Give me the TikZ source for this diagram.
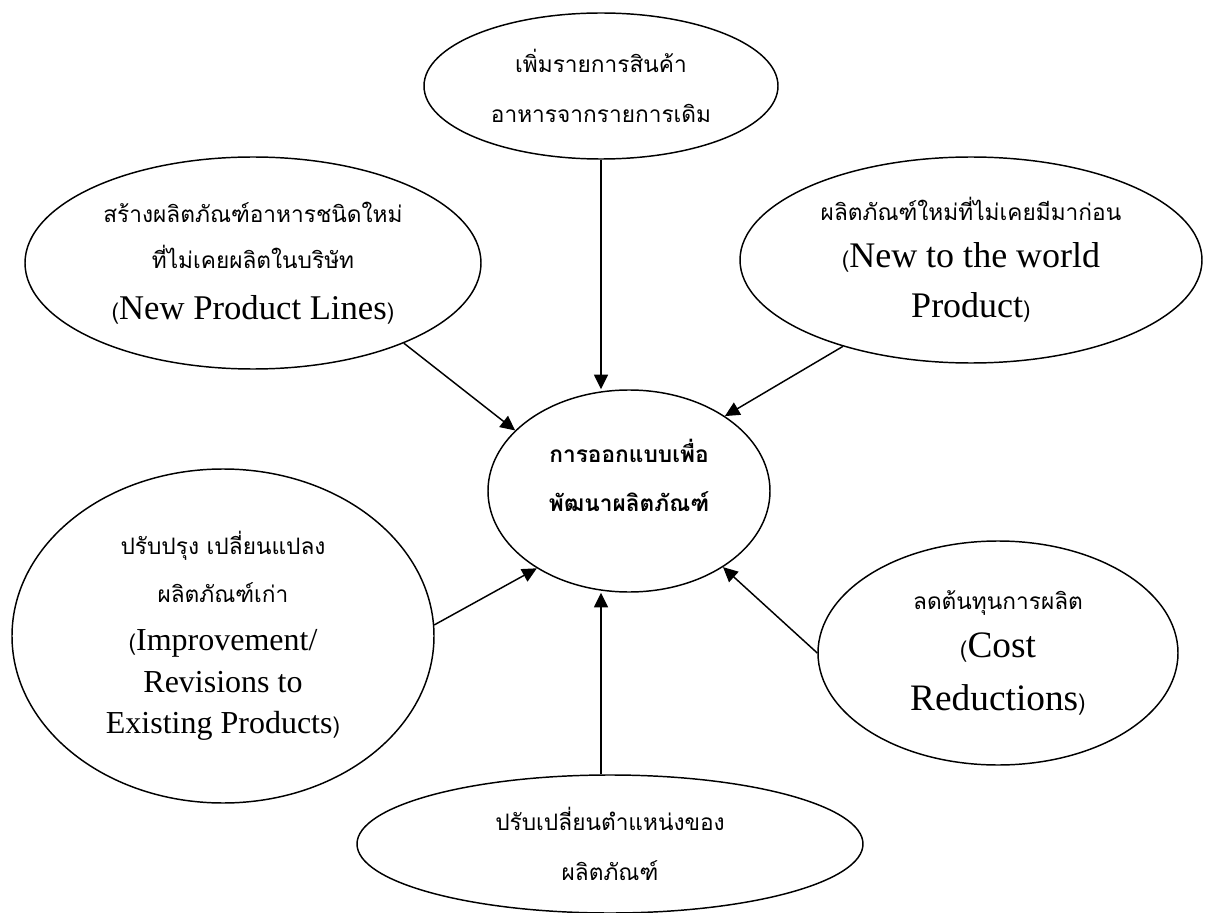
\documentclass[tikz,border=0pt]{standalone}
\usepackage{fontspec}
\setmainfont{Liberation Serif}
\newfontfamily\thai[Script=Thai]{Loma}
\usepackage{tikz}
\usetikzlibrary{
  arrows.meta,
  shapes.geometric
}
\newcommand{\engl}[2][26]{{\rmfamily\fontsize{#1}{30}\selectfont #2}}

\begin{document}
\begin{tikzpicture}[
  x=0.75pt,y=-0.75pt,
  idea/.style={draw,ellipse,line width=1.1pt,inner sep=0pt,align=center,
    font=\thai\fontsize{17}{35}\selectfont},
  feed/.style={draw,line width=1.1pt,-{Triangle[length=11pt,width=10.5pt]}}
]
\useasboundingbox (0,0) rectangle (1208,913);
\node[idea,minimum width=265.5pt,minimum height=109.5pt] (tp) at (601,86)
  {เพิ่มรายการสินค้า\\[2pt]อาหารจากรายการเดิม};
\node[idea,minimum width=342pt,minimum height=159pt] (lt) at (253,263)
  {สร้างผลิตภัณฑ์อาหารชนิดใหม่\\ที่ไม่เคยผลิตในบริษัท\\[3pt](\engl{New Product Lines})};
\node[idea,minimum width=346.5pt,minimum height=154.5pt] (rt) at (971,260)
  {ผลิตภัณฑ์ใหม่ที่ไม่เคยมีมาก่อน\\(\engl[27]{New to the world}\\[3pt]\engl[27]{Product})};
\node[idea,minimum width=211.5pt,minimum height=151.5pt,
  font=\thai\bfseries\fontsize{17}{37}\selectfont] (ctr) at (629,491)
  {การออกแบบเพื่อ\\พัฒนาผลิตภัณฑ์\\[-14pt]};
\node[idea,minimum width=316.5pt,minimum height=250.5pt] (lb) at (223,636)
  {ปรับปรุง เปลี่ยนแปลง\\[1pt]ผลิตภัณฑ์เก่า\\[1pt](\engl[24]{Improvement/}\\[-4pt]
   \engl[24]{Revisions to}\\[-4pt]\engl[24]{Existing Products})};
\node[idea,minimum width=270pt,minimum height=168pt] (rb) at (998,653)
  {ลดต้นทุนการผลิต\\[1pt](\engl[28]{Cost}\\[5pt]\engl[28]{Reductions})};
\node[idea,minimum width=379.5pt,minimum height=103.5pt] (bt) at (610,844)
  {ปรับเปลี่ยนตำแหน่งของ\\[2pt]ผลิตภัณฑ์};

% arrows into the centre
\draw[feed] (tp.south) -- (tp.south |- ctr.north);
\draw[feed] (lt.-28) -- (ctr.152);
\draw[feed] (rt.214) -- (ctr.38);
\draw[feed] (lb.3) -- (ctr.220);
\draw[feed] (rb.west) -- (ctr.-39);
\draw[feed] (tp.south |- bt.north) -- (tp.south |- ctr.south);
\end{tikzpicture}
\end{document}
